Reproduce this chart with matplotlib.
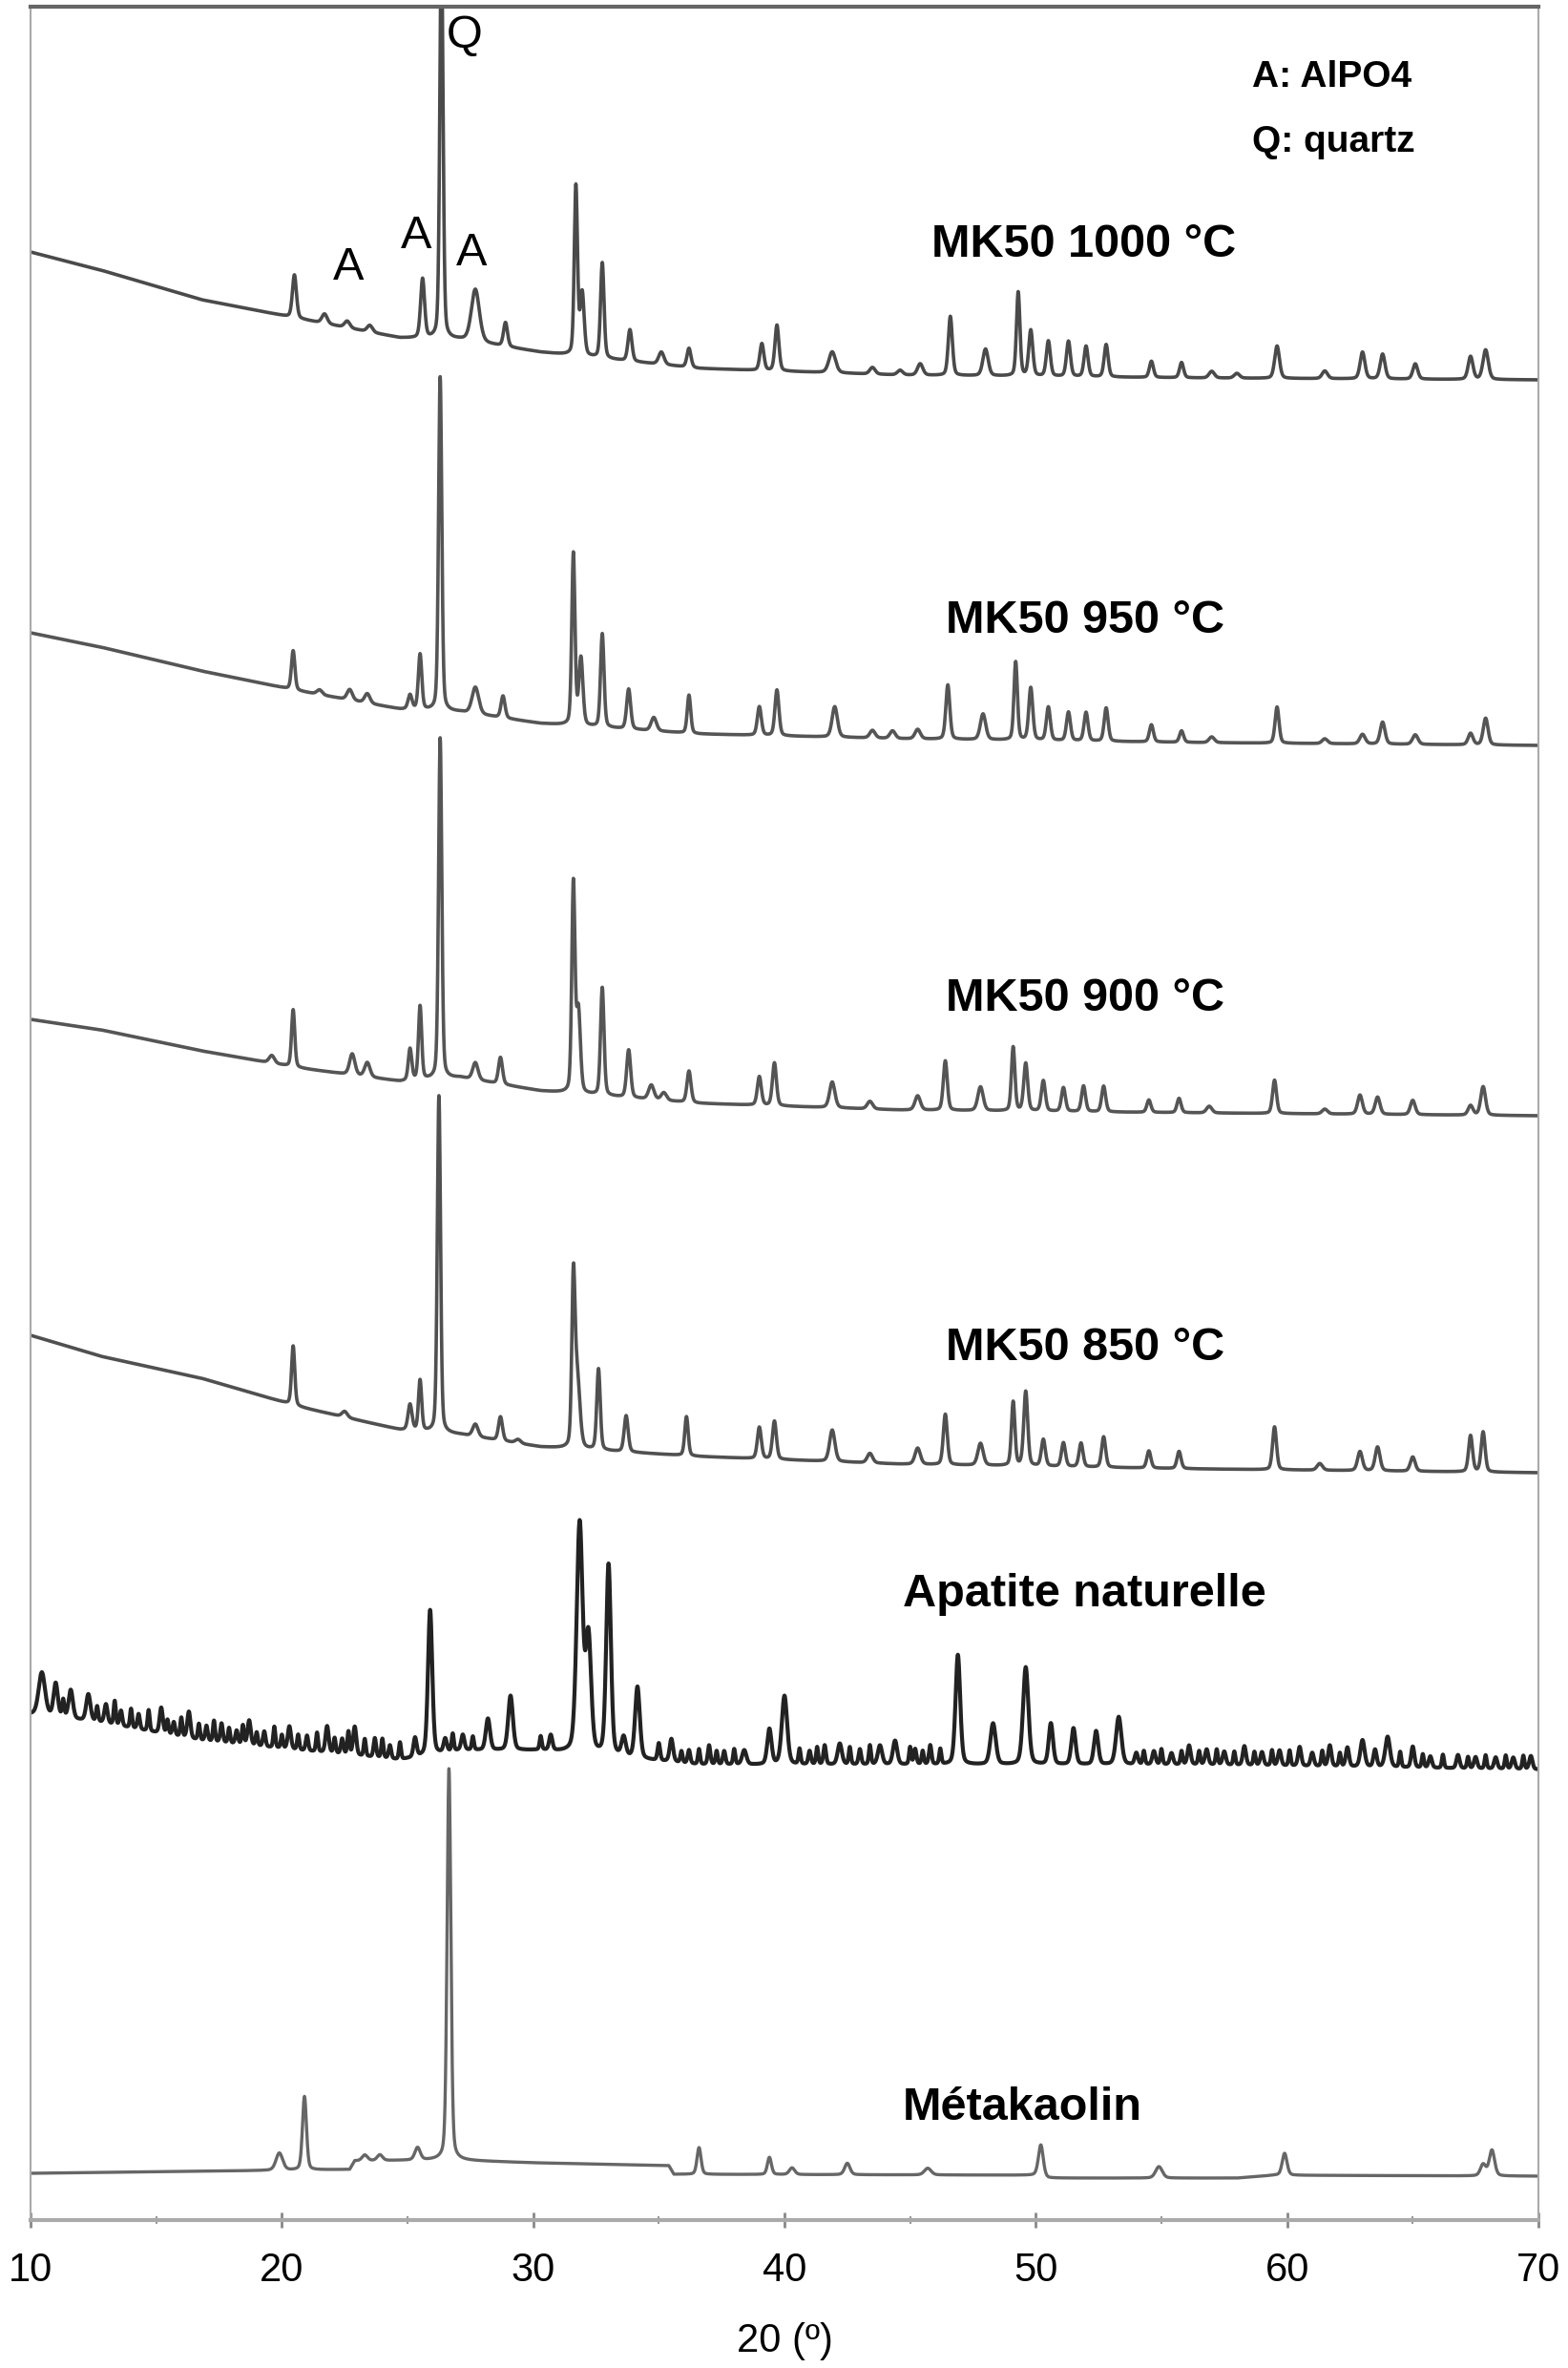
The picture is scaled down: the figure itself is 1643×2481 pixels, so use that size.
import numpy as np
import matplotlib.pyplot as plt

plt.rcParams["font.family"] = ["Liberation Sans", "DejaVu Sans"]

# 2-theta grid
two_theta = np.linspace(10, 70, 6001)

# baseline anchor points (2theta) shared by the MK50 / apatite traces
base_x = [10, 12.8, 16.8, 20.7, 24.7, 27.1, 30.3, 36.6, 44.6, 56.5, 70]

# baselines (vertical units = stacked intensity, a.u.)
mk1000_base = [2062, 2043, 2012, 1992, 1972, 1970, 1957, 1940, 1933, 1930, 1928]
mk950_base = [1663, 1648, 1623, 1602, 1583, 1580, 1568, 1557, 1552, 1548, 1545]
mk900_base = [1258, 1247, 1225, 1207, 1193, 1197, 1183, 1170, 1163, 1160, 1157]
mk850_base = [927, 905, 882, 852, 828, 823, 810, 800, 792, 787, 783]
apatite_base = [530, 521, 502, 492, 482, 492, 492, 477, 477, 477, 472]

mk_base_x = [10, 22.7, 22.9, 26.5, 30, 35.4, 35.6, 50, 50.5, 58, 59.5, 70]
mk_base = [49, 53, 62, 63, 60, 57, 48, 47, 44, 44, 47, 46]

# peaks: (2theta, height, fwhm)
mk1000_peaks = [
    (20.5, 45, .15), (21.7, 10, .2), (22.6, 7, .2), (23.5, 7, .2), (25.6, 62, .15),
    (26.35, 420, .12), (27.7, 55, .3), (28.9, 25, .15), (31.7, 177, .12), (31.95, 65, .15),
    (32.75, 100, .13), (33.85, 33, .15), (35.1, 13, .2), (36.2, 20, .15), (39.1, 28, .15),
    (39.7, 48, .15), (41.9, 22, .25), (43.5, 7, .2), (44.6, 5, .2), (45.4, 12, .2),
    (46.6, 62, .15), (48.0, 28, .2), (49.3, 88, .13), (49.8, 48, .15), (50.5, 37, .15),
    (51.3, 37, .15), (52.0, 32, .15), (52.8, 34, .15), (54.6, 17, .15), (55.8, 16, .15),
    (57.0, 7, .2), (58.0, 5, .2), (59.6, 34, .18), (61.5, 8, .2), (63.0, 28, .18),
    (63.8, 26, .18), (65.1, 16, .18), (67.3, 24, .18), (67.9, 31, .2),
]
mk950_peaks = [
    (20.45, 41, .13), (21.5, 5, .2), (22.7, 11, .2), (23.4, 10, .2), (25.1, 15, .15),
    (25.5, 58, .13), (26.3, 350, .12), (27.7, 28, .25), (28.8, 23, .15), (31.6, 180, .12),
    (31.9, 70, .15), (32.75, 98, .13), (33.8, 42, .15), (34.8, 14, .2), (36.2, 40, .13),
    (39.0, 30, .15), (39.7, 48, .15), (42.0, 32, .2), (43.5, 8, .2), (44.3, 8, .2),
    (45.3, 10, .2), (46.5, 57, .15), (47.9, 27, .2), (49.2, 82, .13), (49.8, 55, .15),
    (50.5, 35, .15), (51.3, 30, .15), (52.0, 30, .15), (52.8, 35, .15), (54.6, 18, .15),
    (55.8, 12, .15), (57.0, 6, .2), (59.6, 38, .15), (61.5, 5, .2), (63.0, 10, .2),
    (63.8, 23, .18), (65.1, 10, .2), (67.3, 12, .18), (67.9, 28, .18),
]
mk900_peaks = [
    (19.6, 8, .2), (20.45, 60, .12), (22.8, 22, .2), (23.4, 15, .2), (25.1, 33, .13),
    (25.5, 77, .12), (26.3, 357, .12), (27.7, 18, .2), (28.7, 28, .15), (31.6, 218, .12),
    (31.8, 85, .15), (32.75, 113, .13), (33.8, 50, .15), (34.7, 15, .2), (35.2, 8, .2),
    (36.2, 33, .15), (39.0, 30, .15), (39.6, 45, .15), (41.9, 27, .2), (43.4, 8, .2),
    (45.3, 15, .2), (46.4, 52, .15), (47.8, 25, .2), (49.1, 67, .13), (49.6, 50, .15),
    (50.3, 32, .15), (51.1, 25, .15), (51.9, 27, .15), (52.7, 27, .15), (54.5, 13, .15),
    (55.7, 15, .15), (56.9, 7, .2), (59.5, 35, .15), (61.5, 5, .2), (62.9, 20, .18),
    (63.6, 18, .18), (65.0, 15, .18), (67.3, 10, .18), (67.8, 30, .18),
]
mk850_peaks = [
    (20.45, 62, .12), (22.5, 6, .2), (25.1, 27, .15), (25.5, 53, .12), (26.25, 353, .12),
    (27.7, 13, .2), (28.7, 25, .15), (29.4, 4, .2), (31.6, 165, .12), (31.75, 75, .2),
    (32.6, 85, .13), (33.7, 38, .15), (36.1, 41, .13), (39.0, 33, .15), (39.6, 40, .15),
    (41.9, 33, .2), (43.4, 10, .2), (45.3, 17, .2), (46.4, 53, .15), (47.8, 23, .2),
    (49.1, 67, .13), (49.6, 78, .15), (50.3, 28, .15), (51.1, 25, .15), (51.8, 25, .15),
    (52.7, 32, .15), (54.5, 18, .15), (55.7, 18, .15), (59.5, 45, .15), (61.3, 7, .2),
    (62.9, 20, .18), (63.6, 25, .18), (65.0, 15, .18), (67.3, 38, .15), (67.8, 42, .15),
]
apatite_peaks = [
    (25.9, 152, .2), (28.2, 33, .2), (29.1, 57, .22), (31.85, 240, .28), (32.2, 120, .25),
    (33.0, 200, .22), (33.6, 20, .2), (34.15, 75, .22), (35.5, 8, .2), (38.4, 15, .2),
    (39.4, 37, .2), (40.0, 72, .25), (42.2, 22, .2), (43.8, 20, .2), (44.4, 25, .2),
    (46.9, 115, .22), (48.3, 43, .25), (49.6, 102, .25), (50.6, 43, .2), (51.5, 38, .2),
    (52.4, 35, .2), (53.3, 50, .25),
]
# small wiggles of the noisy apatite scan
apatite_noise = [
    (10.45, 45, .3), (11.0, 35, .2), (11.3, 18, .1), (11.6, 30, .2), (12.3, 28, .2),
    (12.65, 16, .1), (13.0, 20, .15), (13.35, 25, .1), (13.6, 16, .12), (14.0, 20, .1),
    (14.3, 16, .12), (14.7, 22, .1), (15.2, 27, .15), (15.45, 15, .1), (15.7, 14, .12),
    (16.0, 20, .1), (16.3, 28, .15), (16.7, 17, .1), (17.0, 16, .12), (17.3, 22, .1),
    (17.6, 20, .12), (17.9, 16, .1), (18.2, 14, .12), (18.45, 20, .1), (18.7, 26, .15),
    (19.0, 14, .1), (19.3, 16, .12), (19.7, 22, .1), (20.0, 14, .1), (20.3, 24, .15),
    (20.65, 16, .1), (21.0, 16, .12), (21.4, 20, .1), (21.8, 28, .15), (22.1, 16, .1),
    (22.4, 16, .12), (22.65, 24, .1), (22.9, 30, .15), (23.3, 18, .1), (23.7, 20, .12),
    (24.0, 20, .1), (24.3, 14, .12), (24.7, 18, .1), (25.3, 20, .15), (26.5, 14, .15),
    (26.8, 18, .1), (27.2, 16, .15), (27.6, 14, .1), (30.3, 14, .1), (30.7, 16, .15),
    (35.0, 18, .12), (35.5, 16, .15), (35.9, 12, .1), (36.2, 14, .12), (36.6, 16, .1),
    (37.0, 20, .12), (37.3, 14, .1), (37.6, 14, .12), (38.0, 16, .1), (40.6, 16, .1),
    (41.0, 14, .12), (41.3, 18, .1), (41.6, 20, .12), (42.6, 18, .1), (43.0, 16, .12),
    (43.4, 20, .1), (45.0, 18, .1), (45.2, 16, .12), (45.5, 14, .1), (45.8, 20, .12),
    (46.2, 16, .1), (54.0, 12, .15), (54.3, 14, .1), (54.7, 14, .15), (55.0, 16, .1),
    (55.4, 12, .15), (55.8, 14, .1), (56.1, 20, .15), (56.5, 14, .1), (56.8, 16, .15),
    (57.2, 16, .1), (57.5, 14, .15), (57.9, 14, .1), (58.3, 20, .15), (58.7, 14, .1),
    (59.0, 14, .15), (59.4, 16, .1), (59.7, 16, .15), (60.1, 16, .1), (60.5, 20, .15),
    (61.0, 14, .15), (61.4, 16, .1), (61.7, 22, .15), (62.1, 14, .1), (62.4, 20, .15),
    (63.0, 28, .2), (63.5, 18, .15), (64.0, 32, .22), (64.5, 16, .1), (65.0, 22, .15),
    (65.4, 14, .1), (65.7, 12, .15), (66.2, 14, .1), (66.8, 14, .15), (67.2, 12, .1),
    (67.5, 12, .15), (67.9, 14, .1), (68.3, 12, .15), (68.7, 14, .1), (69.0, 12, .15),
    (69.4, 14, .1), (69.7, 14, .15),
]
mk_peaks = [
    (19.9, 18, .25), (20.9, 77, .15), (23.3, 6, .2), (23.9, 6, .2), (25.4, 13, .2),
    (26.65, 410, .14), (36.6, 28, .15), (39.4, 18, .15), (40.3, 7, .2), (42.5, 12, .2),
    (45.7, 7, .25), (50.2, 33, .18), (54.9, 12, .25), (59.9, 23, .18), (67.8, 12, .2),
    (68.15, 27, .2),
]

labels = ["MK50 1000 °C", "MK50 950 °C", "MK50 900 °C", "MK50 850 °C",
          "Apatite naturelle", "Métakaolin"]
label_x = [45.85, 46.4, 46.4, 46.4, 44.7, 44.7]
label_y = [2057, 1663, 1267, 901, 643, 105]


def pattern(bx, by, peaks, eta=0.3, widen=1.25):
    y = np.interp(two_theta, bx, by)
    for pos, h, w in peaks:
        d = (two_theta - pos) / (w * widen)
        g = np.exp(-4 * np.log(2) * d ** 2)
        lor = 1 / (1 + 4 * d ** 2)
        y = y + h * (eta * lor + (1 - eta) * g)
    return y


traces = [
    (pattern(base_x, mk1000_base, mk1000_peaks), "#4a4a4a", 2.6),
    (pattern(base_x, mk950_base, mk950_peaks), "#555555", 2.6),
    (pattern(base_x, mk900_base, mk900_peaks), "#555555", 2.6),
    (pattern(base_x, mk850_base, mk850_peaks), "#505050", 2.6),
    (pattern(base_x, apatite_base, apatite_peaks + apatite_noise, widen=1.0), "#222222", 3.0),
    (pattern(mk_base_x, mk_base, mk_peaks), "#666666", 2.4),
]

fig = plt.figure(figsize=(16.43, 24.81), dpi=100)
ax = fig.add_axes([32 / 1643, 155 / 2481, 1580 / 1643, 2319 / 2481])

for y, c, lw in traces:
    ax.plot(two_theta, y, color=c, lw=lw)

for txt, x, y in zip(labels, label_x, label_y):
    ax.text(x, y, txt, fontsize=35, fontweight="bold", va="baseline", ha="left")

# phase markers
ax.text(22.65, 2033, "A", fontsize=35, ha="center", va="baseline")
ax.text(25.35, 2066, "A", fontsize=35, ha="center", va="baseline")
ax.text(27.55, 2048, "A", fontsize=35, ha="center", va="baseline")
ax.text(26.55, 2276, "Q", fontsize=35, ha="left", va="baseline")
ax.text(58.6, 2235, "A: AlPO4", fontsize=28, fontweight="bold", va="baseline")
ax.text(58.6, 2167, "Q: quartz", fontsize=28, fontweight="bold", va="baseline")

ax.set_xlim(10, 70)
ax.set_ylim(0, 2319)
ax.set_xticks(range(10, 71, 10))
ax.set_xticks(range(15, 70, 10), minor=True)
ax.set_yticks([])
ax.tick_params(axis="x", which="major", direction="inout", length=12, width=2,
               color="#888888", labelsize=30, pad=18)
ax.tick_params(axis="x", which="minor", direction="inout", length=6, width=1.5,
               color="#999999")

ax.set_xlabel("20 (º)", fontsize=30)
ax.xaxis.set_label_coords(0.5, -0.046)
ax.xaxis.label.set_va("top")

ax.spines["top"].set_color("#666666")
ax.spines["top"].set_linewidth(3)
ax.spines["bottom"].set_color("#aaaaaa")
ax.spines["bottom"].set_linewidth(3)
for s in ["left", "right"]:
    ax.spines[s].set_color("#aaaaaa")
    ax.spines[s].set_linewidth(1.5)

fig.savefig("out.png", dpi=100)
